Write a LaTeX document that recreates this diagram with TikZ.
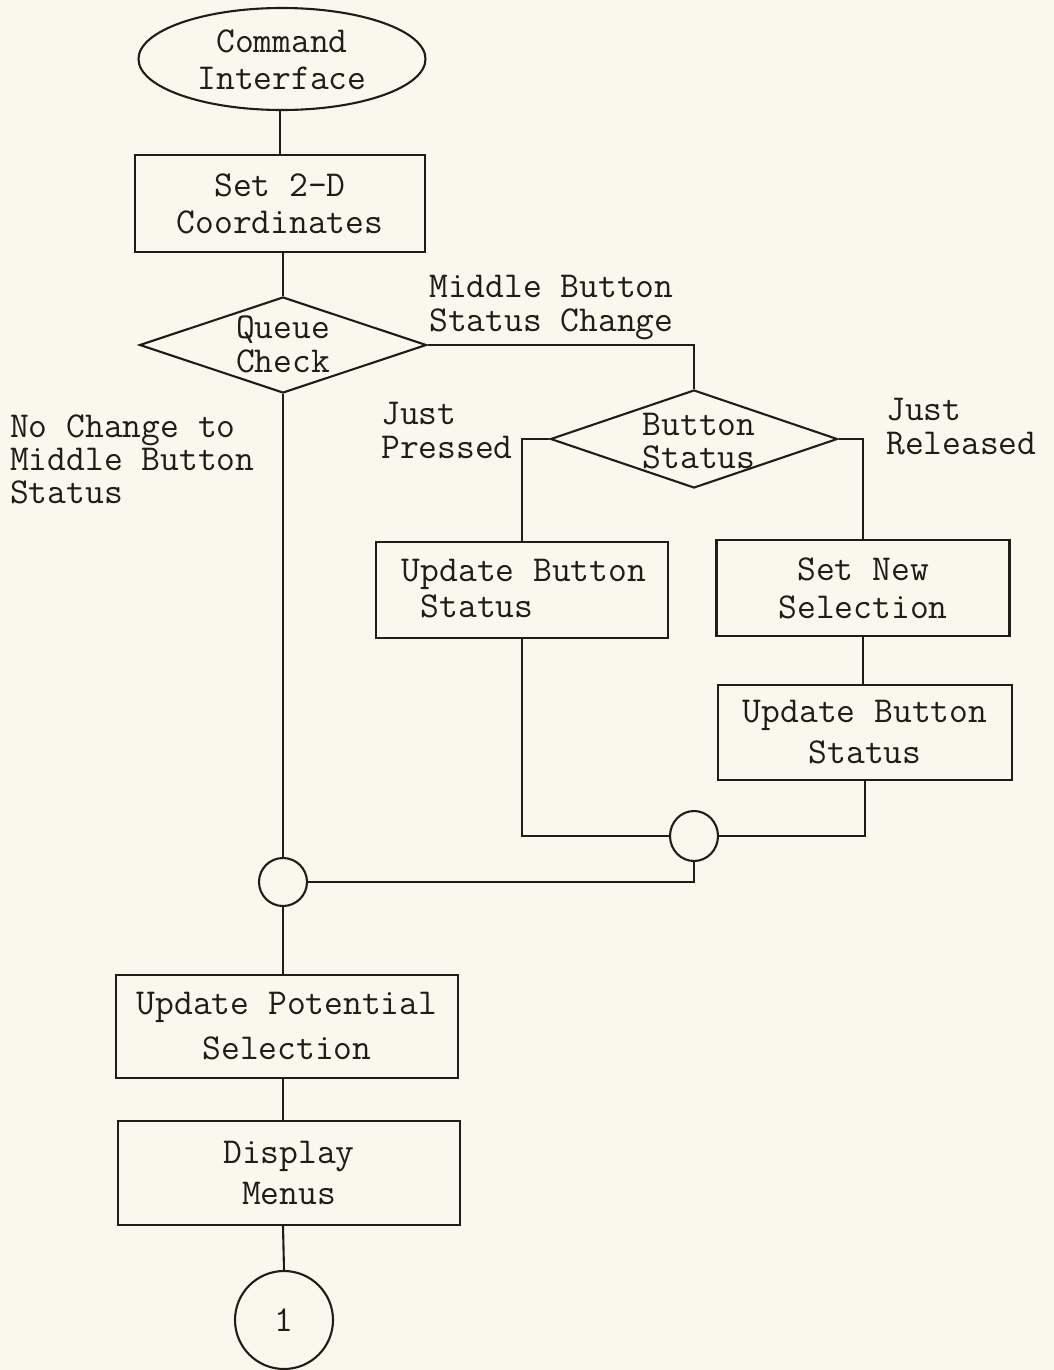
\documentclass[tikz,border=0pt]{standalone}
\usepackage{fontspec}
\usetikzlibrary{shapes.geometric}
\definecolor{ink}{RGB}{34,28,24}
\definecolor{paper}{RGB}{248,248,236}
\begin{document}
\begin{tikzpicture}[x=1pt,y=-1pt,
  f/.style={font=\fontsize{36.5}{#1}\selectfont\ttfamily},
  shp/.style={draw=ink, line width=2.1pt, inner sep=0pt, text=ink},
  box/.style={shp, rectangle, align=center},
  dia/.style={shp, diamond},
  lbl/.style={inner sep=0pt, text=ink, align=left},
  txt/.style={inner sep=0pt, text=ink, align=center},
  conn/.style={draw=ink, line width=2.1pt}]
\fill[paper] (0,0) rectangle (1054,1370);
\useasboundingbox (0,0) rectangle (1054,1370);

% shapes
\node[shp, ellipse, minimum width=287pt, minimum height=102pt] (ci) at (282,59) {};
\node[txt, f=37] (cit) at (282,60) {Command\\Interface};
\node[box, f=37, minimum width=290pt, minimum height=97pt] (sc) at (280,203.5) {Set 2-D\\Coordinates};
\node[dia, minimum width=287pt, minimum height=96pt] (qc) at (283,345) {};
\node[txt, f=34] (qct) at (283,344) {Queue\\Check};
\node[dia, minimum width=287pt, minimum height=98pt] (bs) at (694,439) {};
\node[txt, f=33] (bst) at (699,441) {Button\\Status};
\node[box, f=36, minimum width=292pt, minimum height=96pt] (ubl) at (522,590) {};
\node[lbl, f=36] (ublt) at (524,589) {Update Button\\\hphantom{x}Status};
\node[box, f=38, minimum width=293pt, minimum height=96pt] (sns) at (863,588) {Set New\\Selection};
\node[box, f=41, minimum width=294pt, minimum height=95pt] (ubr) at (865,732.5) {Update Button\\Status};
\node[shp, ellipse, minimum width=48pt, minimum height=50pt] (jr) at (694,836) {};
\node[shp, circle, minimum size=48pt] (jl) at (283,882) {};
\node[box, f=45, minimum width=342pt, minimum height=103pt] (ups) at (287,1026.5) {Update Potential\\Selection};
\node[box, f=41, minimum width=342pt, minimum height=104pt] (dm) at (289,1173) {Display\\Menus};
\node[shp, circle, minimum size=98pt, f=37] (c1) at (284,1320) {1};

% labels
\node[lbl, f=34, anchor=west] (l1) at (429,308) {Middle Button\\Status Change};
\node[lbl, f=34, anchor=west] (l2) at (381,430) {Just\\Pressed};
\node[lbl, f=34, anchor=west] (l3) at (886,427) {Just\\Released};
\node[lbl, f=33, anchor=west] (l4) at (10,459) {No Change to\\Middle Button\\Status};

% connectors
\draw[conn] (sc.north) -- (sc.north |- ci.south);
\draw[conn] (qc.north |- sc.south) -- (qc.north);
\draw[conn] (qc.east) -| (bs.north);
\draw[conn] (bs.west) -| (ubl.north);
\draw[conn] (bs.east) -| (sns.north);
\draw[conn] (sns.south) -- (sns.south |- ubr.north);
\draw[conn] (ubr.south) |- (jr.east);
\draw[conn] (ubl.south) |- (jr.west);
\draw[conn] (jr.south) |- (jl.east);
\draw[conn] (qc.south) -- (jl.north);
\draw[conn] (jl.south) -- (jl.south |- ups.north);
\draw[conn] (jl.south |- ups.south) -- (jl.south |- dm.north);
\draw[conn] (jl.south |- dm.south) -- (c1.north);
\end{tikzpicture}
\end{document}
